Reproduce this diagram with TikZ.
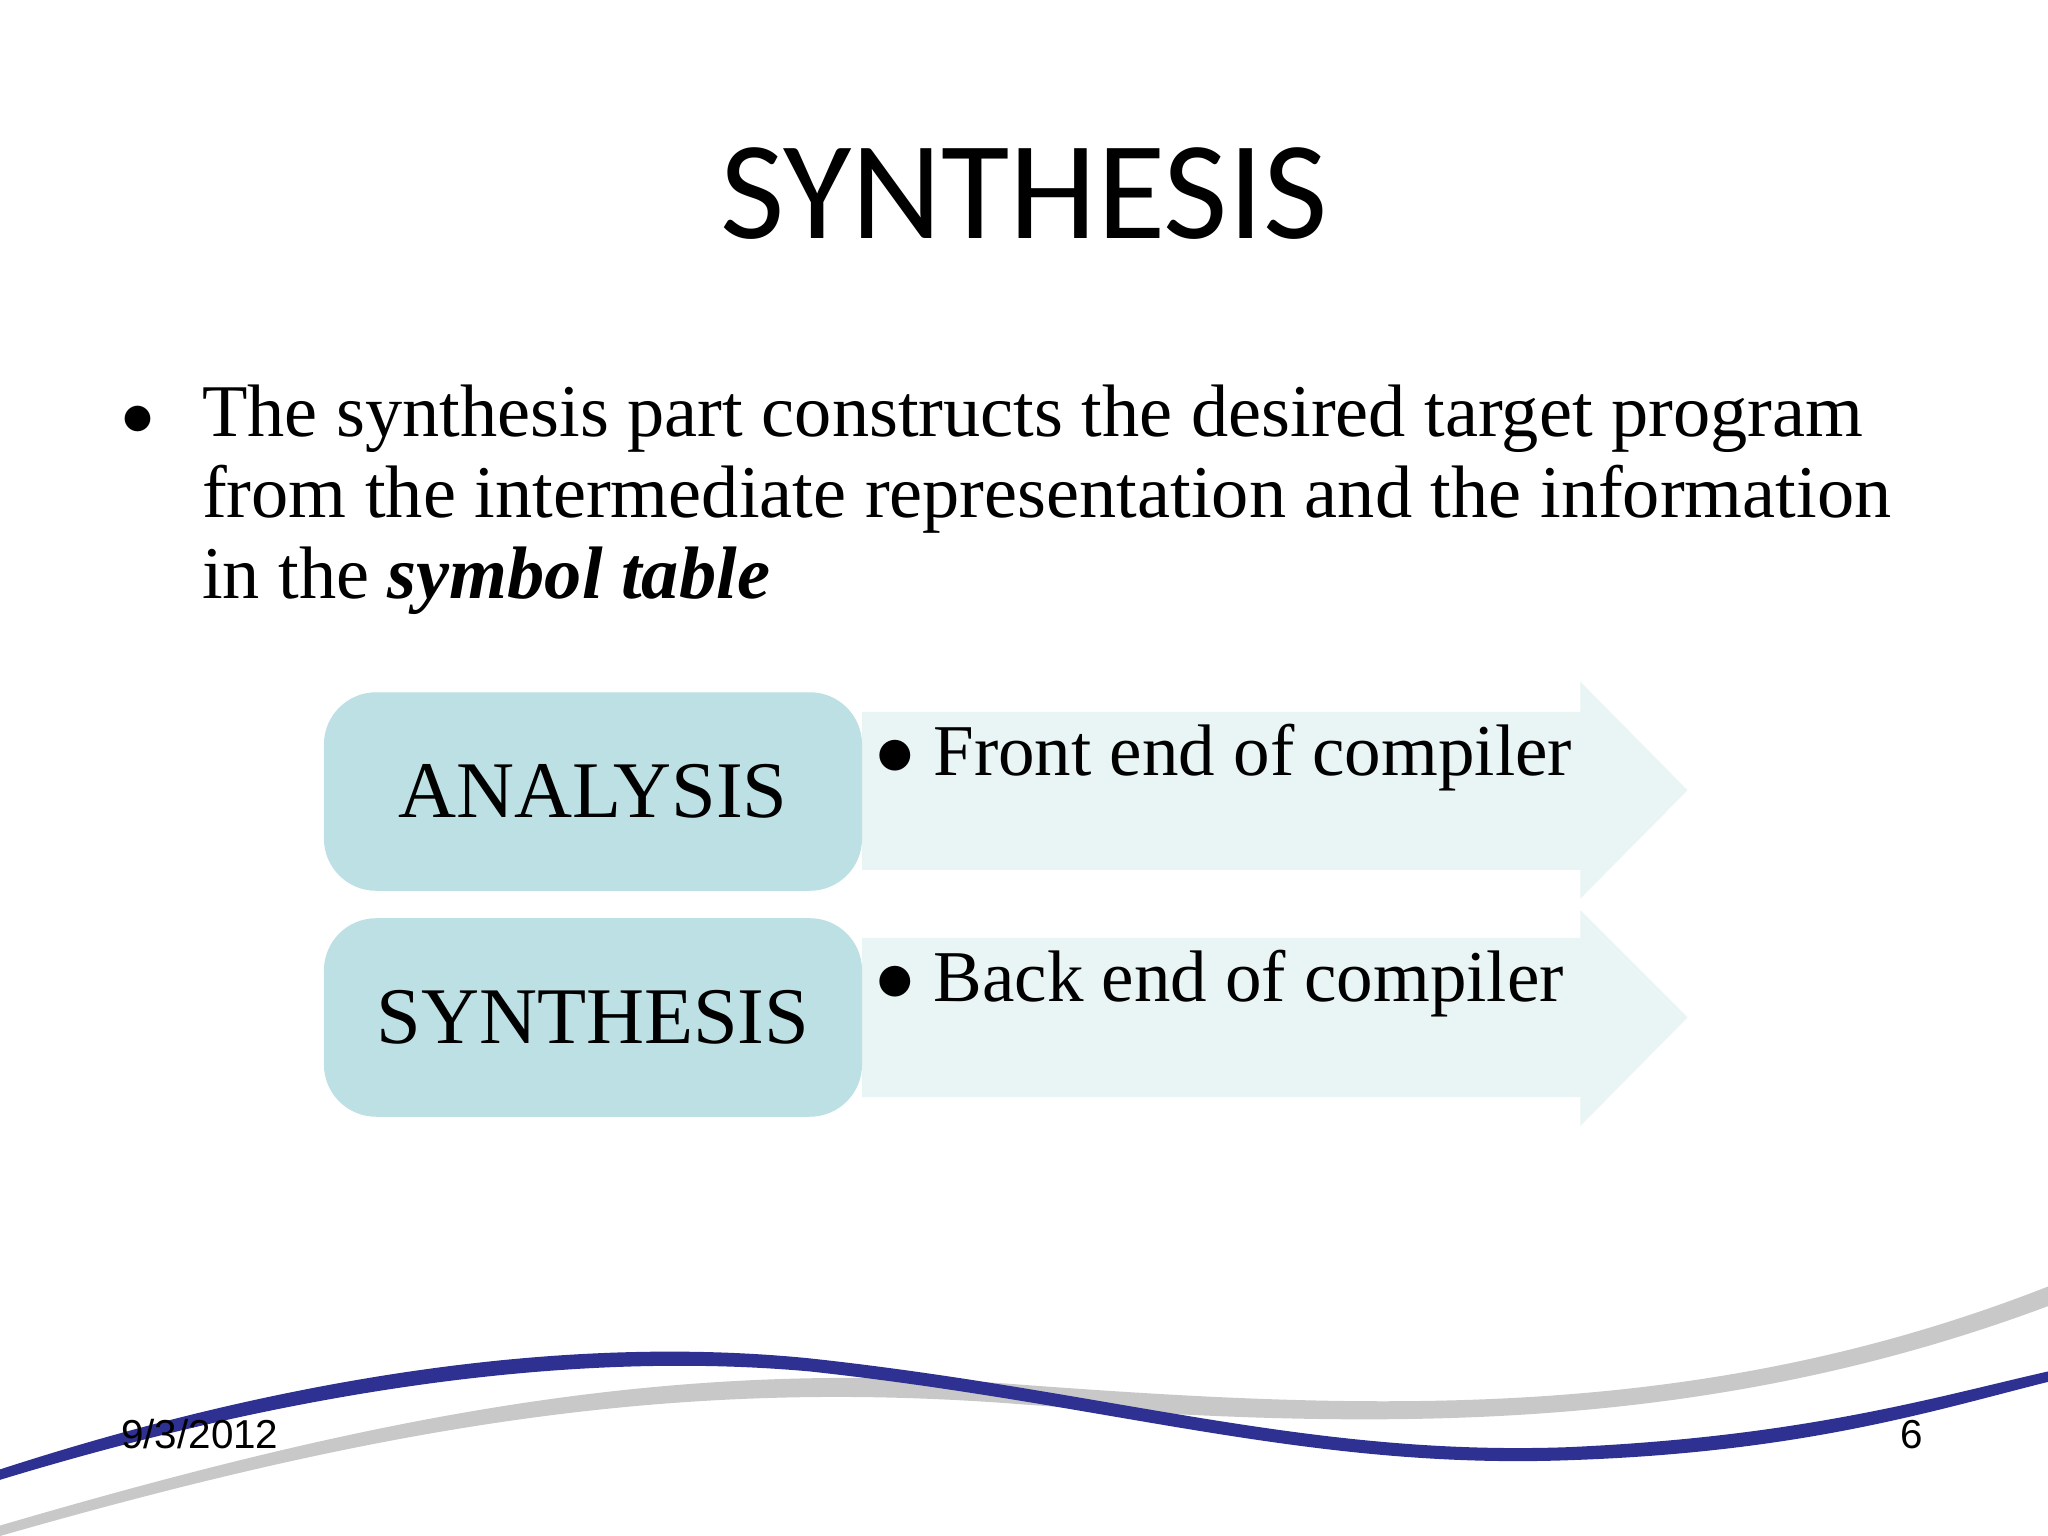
\documentclass[tikz,border=0pt]{standalone}
\usepackage{fontspec}
\setmainfont{Liberation Serif}
\newfontfamily\titlefont{Carlito}
\newfontfamily\footfont{Liberation Sans}
\begin{document}
\begin{tikzpicture}[x=0.1mm,y=-0.1mm,
  leftbox/.style={draw=none,fill=boxfill,rounded corners=4mm},
  arrowshape/.style={fill=arrowfill,draw=none},
  boxtext/.style={font=\fontsize{17.5}{21}\selectfont},
  arrowtext/.style={font=\fontsize{15.9}{20}\selectfont,anchor=west}]
\definecolor{boxfill}{HTML}{BCE0E3}
\definecolor{arrowfill}{HTML}{E9F4F4}
\definecolor{swblue}{HTML}{2E3192}
\definecolor{swgray}{HTML}{C8C8C8}
\useasboundingbox (0,0) rectangle (1568,1176);
\fill[white] (0,0) rectangle (1568,1176);
% title
\node (title) at (784,148) {\titlefont\fontsize{30.5}{36}\selectfont SYNTHESIS};
% bullet text
\node (bullet) at (106,322) {\fontsize{15}{18}\selectfont $\bullet$};
\node[anchor=north west,align=left,inner sep=0,font=\fontsize{16.2}{17.6}\selectfont] (para) at (154,294)
 {The synthesis part constructs the desired target program\\
  from the intermediate representation and the information\\
  in the \textbf{\textit{symbol table}}};
% arrows
\fill[arrowshape] (660,545) -- (1210,545) -- (1210,522) -- (1292,605) -- (1210,688) -- (1210,666) -- (660,666) -- cycle;
\fill[arrowshape] (660,718) -- (1210,718) -- (1210,697) -- (1292,779) -- (1210,862) -- (1210,840) -- (660,840) -- cycle;
\fill[leftbox] (248,530) rectangle (660,682);
\fill[leftbox] (248,703) rectangle (660,855);
\node[boxtext] (ana) at (454,606) {ANALYSIS};
\node[boxtext] (syn) at (454,779) {SYNTHESIS};
\node[arrowtext] (fe) at (658,580) {$\bullet$ Front end of compiler};
\node[arrowtext] (be) at (658,753) {$\bullet$ Back end of compiler};
% swoosh
\fill[swgray] (0,1168) .. controls (300,1080) and (520,1040) .. (780,1060)
  .. controls (1050,1080) and (1300,1090) .. (1568,985) -- (1568,1000)
  .. controls (1300,1100) and (1050,1095) .. (780,1075)
  .. controls (520,1055) and (300,1090) .. (0,1176) -- cycle;
\fill[swblue] (0,1125) .. controls (200,1060) and (420,1020) .. (620,1040)
  .. controls (850,1065) and (1000,1115) .. (1200,1108)
  .. controls (1380,1100) and (1480,1070) .. (1568,1050) -- (1568,1058)
  .. controls (1480,1080) and (1380,1112) .. (1200,1118)
  .. controls (1000,1125) and (850,1075) .. (620,1050)
  .. controls (420,1032) and (200,1072) .. (0,1133) -- cycle;
\node[font=\footfont\fontsize{8.8}{11}\selectfont] (date) at (153,1098) {9/3/2012};
\node[font=\footfont\fontsize{8.8}{11}\selectfont] (num) at (1464,1098) {6};
\end{tikzpicture}
\end{document}
